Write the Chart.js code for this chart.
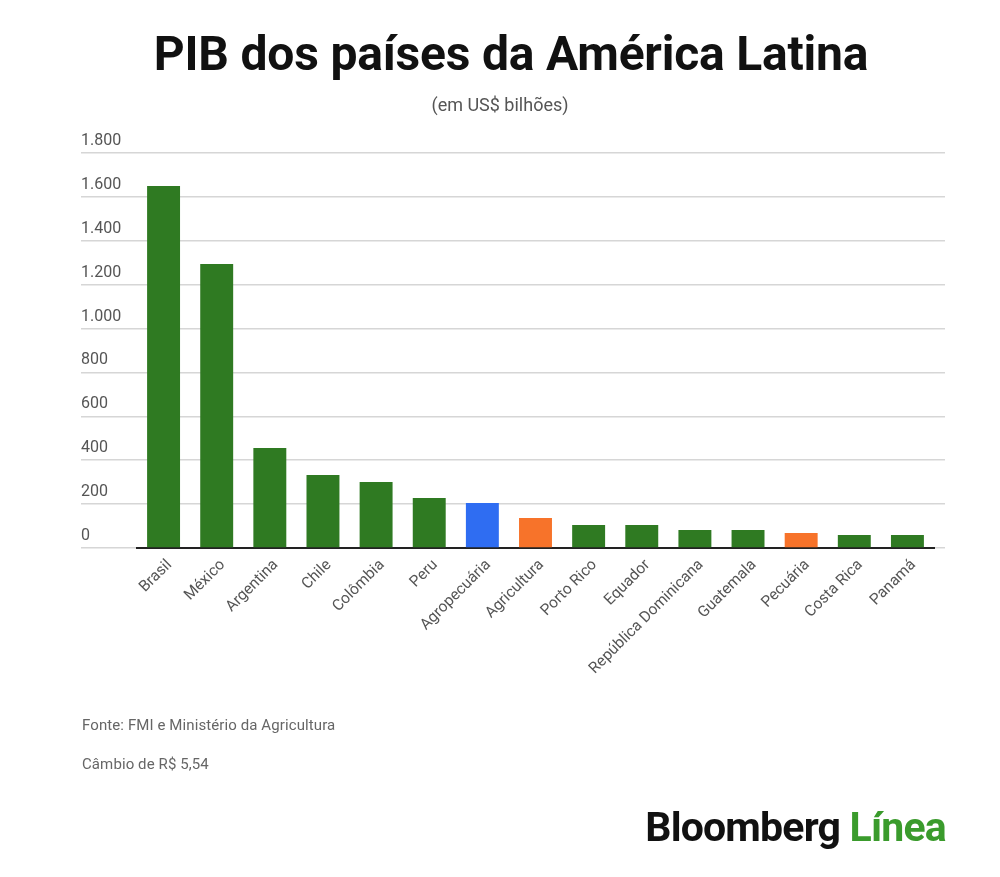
<!DOCTYPE html>
<html>
<head>
<meta charset="utf-8">
<script src="https://cdn.jsdelivr.net/npm/chart.js@4/dist/chart.umd.min.js"></script>
<style>
  body { margin: 0; background: #fff; font-family: Roboto, sans-serif; }
  #wrap { position: relative; width: 1000px; height: 877px; }
  canvas { position: absolute; left: 0; top: 0; }
  .t { position: absolute; white-space: nowrap; }
  #title { top: 25px; left: 0; width: 1022px; text-align: center; font-size: 48px; font-weight: 700; letter-spacing: -0.2px; color: #111; }
  #sub { top: 94px; left: 0; width: 1000px; text-align: center; font-size: 18px; color: #555; }
  .note { left: 82px; font-size: 15px; color: #666; letter-spacing: 0.1px; }
  #logo { right: 54px; top: 803px; font-size: 41px; font-weight: 700; letter-spacing: -0.8px; color: #111; }
  #logo span { color: #3a9b2c; }
</style>
</head>
<body>
<div id="wrap">
  <canvas id="chart" width="1000" height="877"></canvas>
  <div class="t" id="title">PIB dos países da América Latina</div>
  <div class="t" id="sub">(em US$ bilhões)</div>
  <div class="t note" style="top:716px">Fonte: FMI e Ministério da Agricultura</div>
  <div class="t note" style="top:755px">Câmbio de R$ 5,54</div>
  <div class="t" id="logo">Bloomberg <span>Línea</span></div>
</div>
<script>
// dados
const paises = ['Brasil', 'México', 'Argentina', 'Chile', 'Colômbia', 'Peru', 'Agropecuária', 'Agricultura',
  'Porto Rico', 'Equador', 'República Dominicana', 'Guatemala', 'Pecuária', 'Costa Rica', 'Panamá'];
const pib = [1650, 1294, 456, 333, 301, 228, 205, 137, 105, 105, 82, 82, 68, 59, 59];
const cores = ['#2f7a22', '#2f7a22', '#2f7a22', '#2f7a22', '#2f7a22', '#2f7a22', '#2f6df2', '#f7732a',
  '#2f7a22', '#2f7a22', '#2f7a22', '#2f7a22', '#f7732a', '#2f7a22', '#2f7a22'];
const yTicks = [0, 200, 400, 600, 800, 1000, 1200, 1400, 1600, 1800];

const ctx = document.getElementById('chart').getContext('2d');
new Chart(ctx, {
  type: 'bar',
  data: {
    labels: paises,
    datasets: [{ data: pib, backgroundColor: cores, barPercentage: 0.62, categoryPercentage: 1 }]
  },
  options: {
    responsive: false,
    animation: false,
    layout: { padding: { top: 153, left: 81, right: 55, bottom: 0 } },
    plugins: { legend: { display: false }, tooltip: { enabled: false } },
    scales: {
      x: {
        offset: true,
        grid: { display: false },
        border: { color: '#222', width: 2 },
        ticks: { color: '#555', font: { family: 'Roboto', size: 15.5 }, maxRotation: 45, minRotation: 45, padding: 0, labelOffset: 6 },
        afterFit: s => { s.height = 329; }
      },
      y: {
        min: 0, max: 1800,
        afterBuildTicks: s => { s.ticks = yTicks.map(v => ({ value: v })); },
        border: { display: false },
        grid: { color: '#d6d6d6', lineWidth: 1.5, tickLength: 56, tickColor: '#d6d6d6' },
        ticks: {
          color: '#555', font: { family: 'Roboto', size: 16 }, crossAlign: 'far', padding: 0, labelOffset: -12,
          callback: v => v.toLocaleString('pt-BR')
        },
        afterFit: s => { s.width = 56; }
      },
      y2: {
        position: 'right', min: 0, max: 1800,
        afterBuildTicks: s => { s.ticks = yTicks.map(v => ({ value: v })); },
        border: { display: false },
        grid: { drawOnChartArea: false, tickLength: 11, color: '#d6d6d6', lineWidth: 1.5 },
        ticks: { display: false },
        afterFit: s => { s.width = 11; }
      }
    }
  }
});
</script>
</body>
</html>
